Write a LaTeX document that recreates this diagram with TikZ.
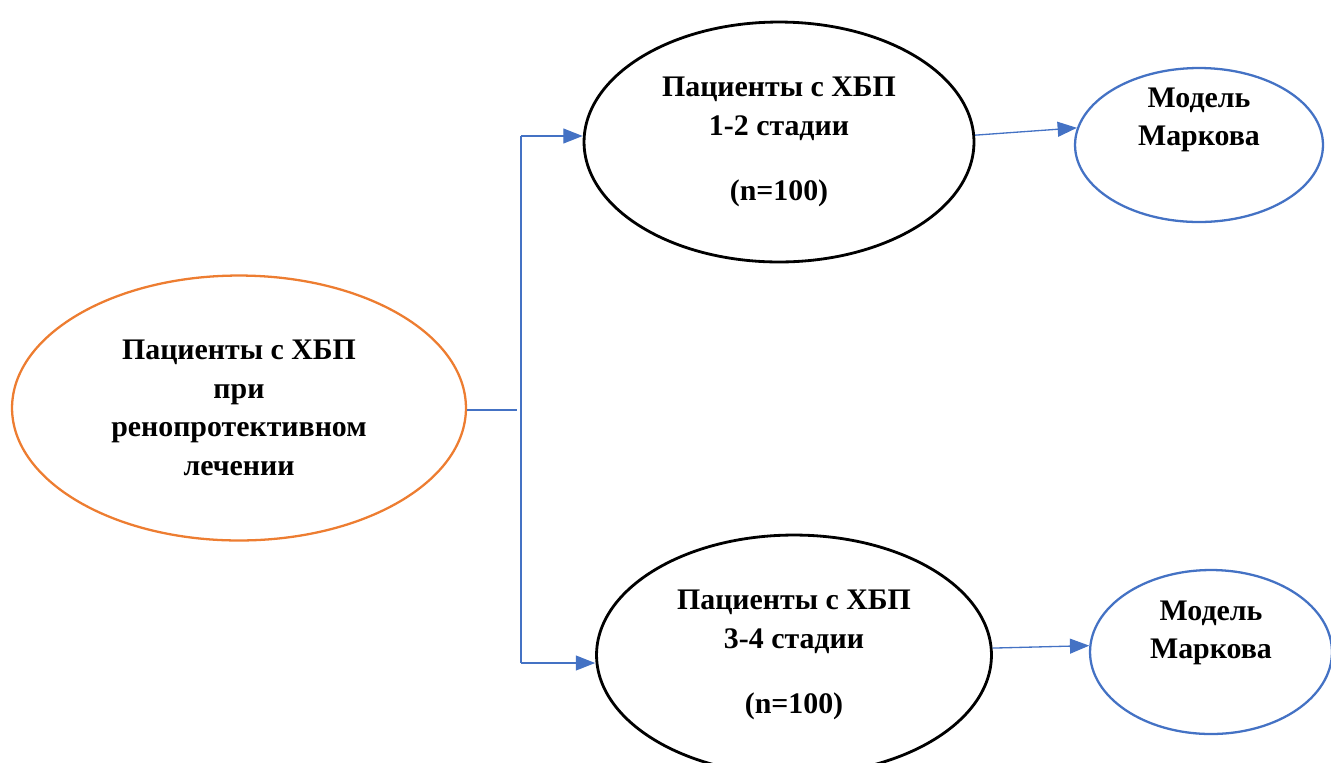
\documentclass[tikz,border=0pt]{standalone}
\usepackage{fontspec}
\setmainfont{Liberation Serif}
\usepackage{tikz}
\usetikzlibrary{arrows.meta, positioning, shapes.geometric}

\definecolor{wordblue}{RGB}{68,114,196}
\definecolor{wordorange}{RGB}{237,125,49}

\begin{document}
\begin{tikzpicture}[x=0.02cm, y=-0.02cm,
    oval/.style={ellipse, draw, inner sep=0pt, align=center,
        font=\fontsize{17}{22}\selectfont\bfseries},
    group/.style={oval, line width=1.6pt, minimum width=7.8cm, minimum height=4.8cm},
    model/.style={oval, draw=wordblue, line width=1.3pt},
    conn/.style={draw=wordblue, line width=0.75pt},
    arr/.style={conn, -{Triangle[length=11pt, width=8.5pt]}}]
    \useasboundingbox (0,0) rectangle (1331,762);

    \node[oval, draw=wordorange, line width=1.3pt, minimum width=9.08cm, minimum height=5.3cm]
        (all) at (239,408) {Пациенты с ХБП\\при\\ренопротективном\\лечении};
    \node[group] (st12) at (779,142) {Пациенты с ХБП\\1-2 стадии\\[15pt](n=100)};
    \node[group, minimum width=7.9cm] (st34) at (794,655) {Пациенты с ХБП\\3-4 стадии\\[15pt](n=100)};
    \node[model, minimum width=4.96cm, minimum height=3.08cm,
        label={[yshift=0.5cm, font=\fontsize{17}{22}\selectfont\bfseries, align=center]center:Модель\\Маркова}]
        (mark1) at (1199,145) {};
    \node[model, minimum width=4.84cm, minimum height=3.28cm,
        label={[yshift=0.38cm, font=\fontsize{17}{22}\selectfont\bfseries, align=center]center:Модель\\Маркова}]
        (mark2) at (1211,652) {};

    % branching connector
    \coordinate (jmid) at (517,410);
    \coordinate (jtop) at (521,136);
    \coordinate (jbot) at (521,663);
    \draw[conn] (jmid -| all.east) -- (jmid);
    \draw[conn] (jtop) -- (jbot);
    \draw[arr] (jtop) -- (jtop -| st12.west);
    \draw[arr] (jbot) -- (jbot -| st34.west);

    \draw[arr] (st12.2) -- (mark1.172);
    \draw[arr] (st34.2) -- (mark2.177);
\end{tikzpicture}
\end{document}
